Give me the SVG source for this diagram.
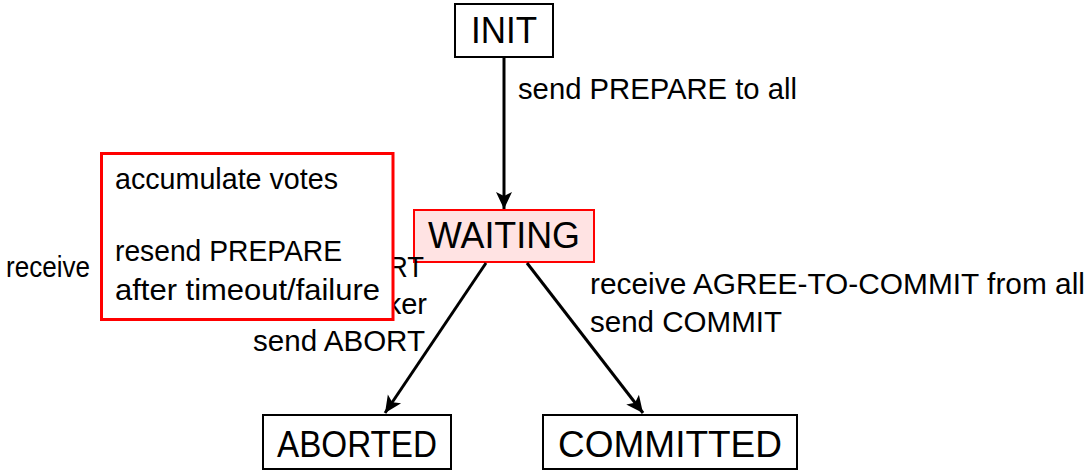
<svg xmlns="http://www.w3.org/2000/svg" width="1091" height="473" viewBox="0 0 1091 473">
  <style>
    .box { fill: #ffffff; stroke: #000000; stroke-width: 2; }
    .active { fill: #ffe3e3; stroke: #ff0000; stroke-width: 2; }
    .note { fill: #ffffff; stroke: #ff0000; stroke-width: 3; }
    .state { font-family: "Liberation Sans", Arial, sans-serif; font-size: 36px; fill: #000000; text-anchor: middle; }
    .lbl { font-family: "Liberation Sans", Arial, sans-serif; font-size: 29px; fill: #000000; }
    .end { text-anchor: end; }
    .edge { stroke: #000000; stroke-width: 3; fill: none; marker-end: url(#arrow); }
  </style>
  <defs>
    <marker id="arrow" markerUnits="userSpaceOnUse" markerWidth="20" markerHeight="20" viewBox="-1 -9 20 18" refX="17" refY="0" orient="auto">
      <path d="M0,-8 L17,0 L0,8 L4,0 Z" fill="#000000"/>
    </marker>
  </defs>

  <rect width="1091" height="473" fill="#ffffff"/>

  <!-- states -->
  <g id="init">
    <rect class="box" x="455" y="4" width="98" height="53"/>
    <text class="state" x="504" y="43" textLength="66" lengthAdjust="spacingAndGlyphs">INIT</text>
  </g>
  <g id="waiting">
    <rect class="active" x="414" y="210" width="180" height="52"/>
    <text class="state" x="504" y="248" textLength="152" lengthAdjust="spacingAndGlyphs">WAITING</text>
  </g>
  <g id="aborted">
    <rect class="box" x="263" y="415" width="188" height="54"/>
    <text class="state" x="357" y="457" textLength="160" lengthAdjust="spacingAndGlyphs">ABORTED</text>
  </g>
  <g id="committed">
    <rect class="box" x="543" y="415" width="254" height="54"/>
    <text class="state" x="670" y="457" textLength="224" lengthAdjust="spacingAndGlyphs">COMMITTED</text>
  </g>

  <!-- transitions and their labels -->
  <g id="connectors">
    <line class="edge" x1="504" y1="57" x2="504" y2="209"/>
    <line class="edge" x1="486" y1="263" x2="385" y2="413"/>
    <line class="edge" x1="527" y1="263" x2="643" y2="413"/>

    <text class="lbl" x="518" y="99" textLength="279" lengthAdjust="spacingAndGlyphs">send PREPARE to all</text>

    <text class="lbl" x="6" y="277" textLength="84" lengthAdjust="spacingAndGlyphs">receive</text>
    <text class="lbl end" x="424" y="277" textLength="36" lengthAdjust="spacingAndGlyphs">RT</text>
    <text class="lbl end" x="427" y="314">ker</text>
    <text class="lbl" x="253" y="351" textLength="172" lengthAdjust="spacingAndGlyphs">send ABORT</text>

    <text class="lbl" x="590" y="294" textLength="495" lengthAdjust="spacingAndGlyphs">receive AGREE-TO-COMMIT from all</text>
    <text class="lbl" x="590" y="332" textLength="192" lengthAdjust="spacingAndGlyphs">send COMMIT</text>
  </g>

  <!-- coordinator duties while waiting -->
  <g id="waiting-note">
    <rect class="note" x="101.5" y="153.5" width="291.5" height="166"/>
    <text class="lbl" x="115" y="189" textLength="223" lengthAdjust="spacingAndGlyphs">accumulate votes</text>
    <text class="lbl" x="115" y="261" textLength="227" lengthAdjust="spacingAndGlyphs">resend PREPARE</text>
    <text class="lbl" x="115" y="300" textLength="265" lengthAdjust="spacingAndGlyphs">after timeout/failure</text>
  </g>
</svg>
